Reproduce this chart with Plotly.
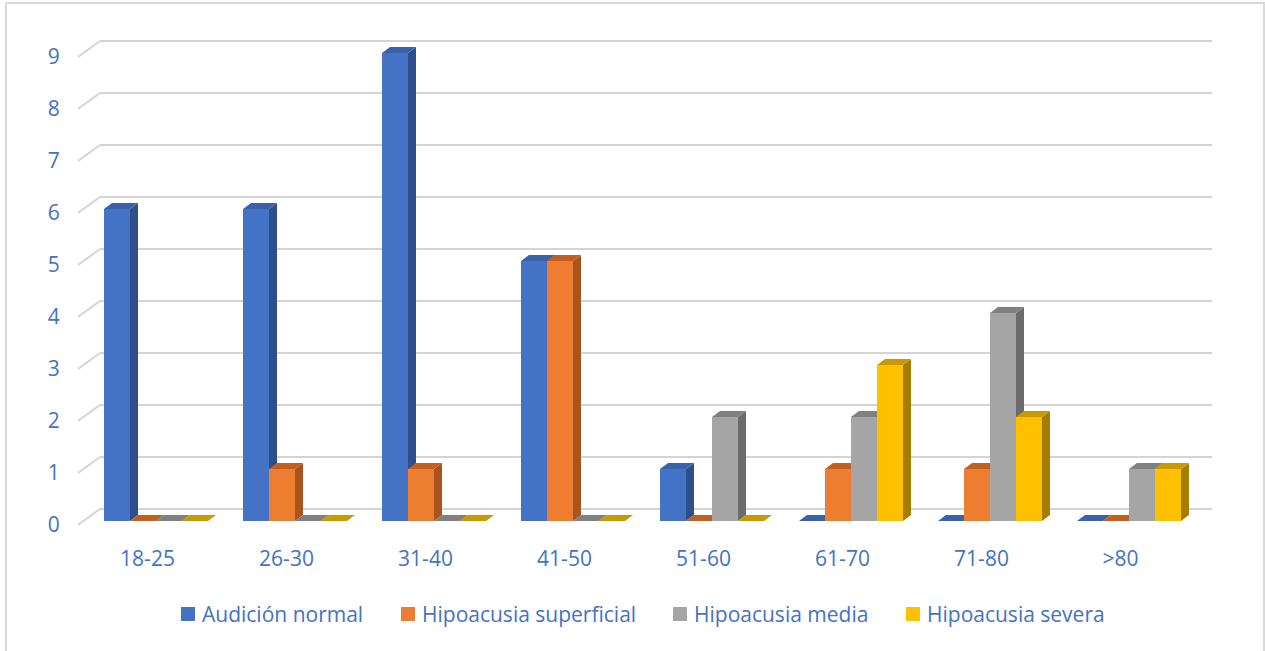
import plotly.graph_objects as go

categories = ["18-25", "26-30", "31-40", "41-50", "51-60", "61-70", "71-80", ">80"]
series_names = ["Audición normal", "Hipoacusia superficial", "Hipoacusia media", "Hipoacusia severa"]
audicion_normal = [6, 6, 9, 5, 1, 0, 0, 0]
hipo_superficial = [0, 1, 1, 5, 0, 1, 1, 0]
hipo_media = [0, 0, 0, 0, 2, 2, 4, 1]
hipo_severa = [0, 0, 0, 0, 0, 3, 2, 1]
y_ticks = list(range(0, 10))

series_values = [audicion_normal, hipo_superficial, hipo_media, hipo_severa]
front_colors = ["#4472C4", "#ED7D31", "#A5A5A5", "#FFC000"]
top_colors = ["#3A62AA", "#C2601F", "#808080", "#C99A00"]
side_colors = ["#2E4F8C", "#A8541C", "#6B6B6B", "#A67D00"]

# layout geometry (pixels)
W, H = 1265, 651
L, R = 78, 1212
T, B = 35, 535
PX_CAT = 139.0      # pixels per category on the front plane
PX_UNIT = 52.0      # pixels per value unit
Y0_FRONT = 525.0    # pixel of value 0 on the front plane
WALL_DX, WALL_DY = 22.0, 16.0
BAR_OFF_DY = 4.0
BAR_DX, BAR_DY = 8.0, 6.0
BAR_W = 26.0
GROUP_START = 26.0

cx = 1.0 / PX_CAT
cy = 1.0 / PX_UNIT
x_range = [-0.5, -0.5 + (R - L) * cx]
y_range = [(Y0_FRONT - B) * cy, (Y0_FRONT - T) * cy]

fig = go.Figure()
shapes = []
annotations = []

# back wall gridlines with diagonal leaders
for v in y_ticks:
    shapes.append(dict(type="line", xref="x", yref="y",
                       x0=-0.5, y0=v, x1=-0.5 + WALL_DX * cx, y1=v + WALL_DY * cy,
                       line=dict(color="#D4D4D4", width=2), layer="below"))
    shapes.append(dict(type="line", xref="x", yref="y",
                       x0=-0.5 + WALL_DX * cx, y0=v + WALL_DY * cy,
                       x1=x_range[1], y1=v + WALL_DY * cy,
                       line=dict(color="#D4D4D4", width=2), layer="below"))

base_v = BAR_OFF_DY * cy
dxb = BAR_DX * cx
dyb = BAR_DY * cy
wb = BAR_W * cx

for i in range(len(categories)):
    for j, vals in enumerate(series_values):
        left = i - 0.5 + (GROUP_START + BAR_W * j) * cx
        right = left + wb
        b = base_v
        t = base_v + vals[i]
        if vals[i] > 0:
            shapes.append(dict(type="path", xref="x", yref="y",
                               path=f"M{right},{b} L{right+dxb},{b+dyb} L{right+dxb},{t+dyb} L{right},{t} Z",
                               fillcolor=side_colors[j], line=dict(width=0), layer="below"))
        shapes.append(dict(type="path", xref="x", yref="y",
                           path=f"M{left},{t} L{right},{t} L{right+dxb},{t+dyb} L{left+dxb},{t+dyb} Z",
                           fillcolor=top_colors[j], line=dict(width=0), layer="below"))

for j, vals in enumerate(series_values):
    xs = [i - 0.5 + (GROUP_START + BAR_W * j + BAR_W / 2) * cx for i in range(len(categories))]
    fig.add_trace(go.Bar(
        x=xs, y=vals, base=base_v, width=wb, name=series_names[j],
        marker=dict(color=front_colors[j], line=dict(width=0)),
        hovertext=categories, hoverinfo="text+y+name", showlegend=False,
    ))

def px_x(p):
    return (p - L) / (R - L)

def px_y(p):
    return (B - p) / (B - T)

font_family = "Open Sans, Liberation Sans, sans-serif"
tick_color = "#4472C4"
FS = 21

# legend (squares + labels)
legend_sq_x = [181, 401, 673, 906]
SQ = 14
LEG_Y = 614
for j, name in enumerate(series_names):
    x0 = legend_sq_x[j]
    shapes.append(dict(type="rect", xref="paper", yref="paper",
                       x0=px_x(x0), x1=px_x(x0 + SQ), y0=px_y(LEG_Y + SQ / 2), y1=px_y(LEG_Y - SQ / 2),
                       fillcolor=front_colors[j], line=dict(width=0)))
    annotations.append(dict(xref="paper", yref="paper", x=px_x(x0 + SQ + 5), y=px_y(LEG_Y),
                            xanchor="left", yanchor="middle", showarrow=False, text=name,
                            font=dict(family=font_family, size=FS, color=tick_color)))

# outer border
shapes.append(dict(type="rect", xref="paper", yref="paper",
                   x0=px_x(6), x1=px_x(1264), y0=px_y(660), y1=px_y(3),
                   line=dict(color="#D9D9D9", width=2), fillcolor="rgba(0,0,0,0)", layer="below"))

fig.update_layout(
    width=W, height=H,
    margin=dict(l=L, r=W - R, t=T, b=H - B, pad=0),
    paper_bgcolor="white", plot_bgcolor="white",
    barmode="overlay",
    shapes=shapes,
    annotations=annotations,
    showlegend=False,
    xaxis=dict(range=x_range, tickmode="array", tickvals=list(range(len(categories))),
               ticktext=categories, showgrid=False, zeroline=False, showline=False,
               ticks="outside", ticklen=5, tickcolor="rgba(0,0,0,0)",
               tickfont=dict(family=font_family, size=FS, color=tick_color)),
    yaxis=dict(range=y_range, tickmode="array", tickvals=y_ticks,
               ticktext=[str(v) for v in y_ticks], showgrid=False, zeroline=False, showline=False,
               ticks="outside", ticklen=13, tickcolor="rgba(0,0,0,0)",
               tickfont=dict(family=font_family, size=FS, color=tick_color)),
)

fig.write_html("out.html")
